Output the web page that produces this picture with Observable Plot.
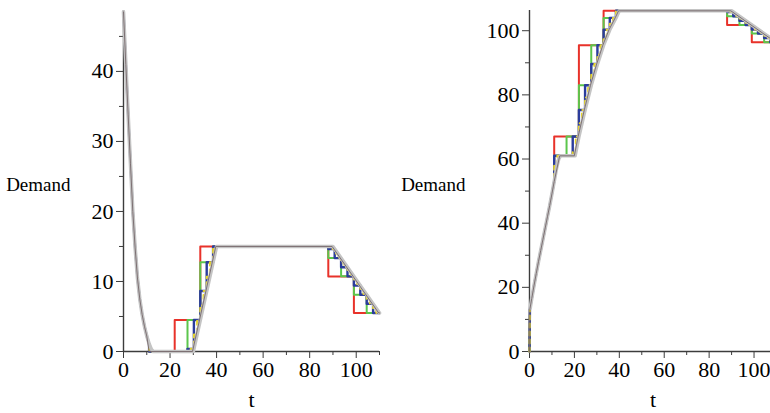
<!DOCTYPE html>
<html><head><meta charset="utf-8">
<script src="https://cdn.jsdelivr.net/npm/d3@7"></script>
<script src="https://cdn.jsdelivr.net/npm/@observablehq/plot@0.6"></script>
<style>
html,body{margin:0;padding:0;background:#fff;overflow:hidden;width:770px;height:413px;}
#wrap{position:relative;width:770px;height:413px;overflow:hidden;}
#left{position:absolute;left:0;top:0;width:390px;}
#right{position:absolute;left:390px;top:0;width:386px;}
svg{max-width:none !important;}
svg text, svg g{font-family:'Liberation Serif','Times New Roman',serif !important;}
g[aria-label$="tick label"], g[aria-label$="tick label"] text{font-size:22px !important;font-family:'Liberation Serif',serif !important;font-variant:normal !important;}
</style></head><body><div id="wrap"><div id="left"></div><div id="right"></div></div>
<script>
// ---------- Left panel ----------
const leftCurveT = [0,1,2,3,4,5,6,7,8,9,10,11,12,12.8,30,40,90,110];
const leftCurveD = [48.5,41.0,33.8,26.8,20.0,14.8,10.5,7.5,5.3,3.6,2.2,1.1,0.3,0,0,15,15,5.5];
const leftLeadT = [0,1,2,3,4,5,6,7,8,9,10,11];
const leftLeadD = [48.5,41.0,33.8,26.8,20.0,14.8,10.5,7.5,5.3,3.6,2.2,1.1];
const leftRedStart = [11,22,33,88,99];
const leftRedVal = [0,4.5,15,10.7,5.5];
const leftGreenStart = [11,27.5,33,38.5,88,93.5,99,104.5];
const leftGreenVal = [0,4.5,12.75,15,13.34,10.73,8.11,5.5];
const leftBlueStart = [11,27.5,30.25,33,35.75,38.5,88,90.75,93.5,96.25,99,101.75,104.5,107.25];
const leftBlueVal = [0,0.375,4.5,8.63,12.75,15,14.64,13.34,12.03,10.73,9.42,8.11,6.81,5.5];
const leftYellowStart = [11,28.875,30.25,31.625,33,34.375,35.75,37.125,38.5,39.875,89.375,90.75,92.125,93.5,94.875,96.25,97.625,99,100.375,101.75,103.125,104.5,105.875,107.25,108.625];
const leftYellowVal = [0,0.375,2.44,4.5,6.56,8.63,10.69,12.75,14.81,15,14.64,13.99,13.34,12.68,12.03,11.38,10.73,10.07,9.42,8.77,8.11,7.46,6.81,6.15,5.5];
const leftFineT = [0,1,2,3,4,5,6,7,8,9,10,11,29.65,39.65,89.65,109.65,110];
const leftFineD = [48.5,41.0,33.8,26.8,20.0,14.8,10.5,7.5,5.3,3.6,2.2,0,0,15,15,5.5,5.5];

// ---------- Right panel ----------
const rightCurveT = [0.3,1,2,3,4,5,6,7,8,9,10,11,12,13,13.8,20.3,22,24.75,27.5,30.25,33,35.75,38.5,40,90,110];
const rightCurveD = [13.5,16.5,20.5,24.3,28,31.5,35,38.5,42,45.5,49.2,53,57,60,61,61,67,75.3,83,89.6,95.5,100.3,104,106.2,106.2,96.4];
const rightLeadT = [0,0.2,1,2,3,4,5,6,7,8,9,10,11];
const rightLeadD = [0,13.3,16.5,20.5,24.3,28,31.5,35,38.5,42,45.5,49.2,53];
const rightRedStart = [11,22,33,88,99];
const rightRedVal = [67,95.5,106.2,101.8,96.4];
const rightGreenStart = [11,16.5,22,27.5,33,38.5,88,93.5,99,104.5];
const rightGreenVal = [61,67,83,95.5,104,106.2,104.5,101.8,99.1,96.4];
const rightBlueStart = [11,19.25,22,24.75,27.5,30.25,33,35.75,38.5,88,90.75,93.5,96.25,99,101.75,104.5,107.25];
const rightBlueVal = [61,67,75.3,83,89.6,95.5,100.3,104,106.2,105.8,104.5,103.1,101.8,100.4,99.1,97.7,96.4];
const rightYellowStart = [11,12.375,19.25,20.625,22,23.375,24.75,26.125,27.5,28.875,30.25,31.625,33,34.375,35.75,37.125,38.5,39.875,89.375,90.75,92.125,93.5,94.875,96.25,97.625,99,100.375,101.75,103.125,104.5,105.875,107.25,108.625];
const rightYellowVal = [58.1,61,62.1,67,71.15,75.3,79.15,83,86.3,89.6,92.55,95.5,97.9,100.3,102.15,104,106.0,106.2,105.8,105.2,104.5,103.8,103.1,102.5,101.8,101.1,100.4,99.8,99.1,98.4,97.7,97.1,96.4];
const rightFineT = [0,0.2,1,2,3,4,5,6,7,8,9,10,11,13.45,19.95,21.65,24.4,27.15,29.9,32.65,35.4,38.15,39.65,89.65,109.65,110];
const rightFineD = [0,13.3,16.5,20.5,24.3,28,31.5,35,38.5,42,45.5,49.2,53,61,61,67,75.3,83,89.6,95.5,100.3,104,106.2,106.2,96.4,96.4];

// ---------- tick labels ----------
const xTicks = [0,20,40,60,80,100];
const xMinor = [10,30,50,70,90,110];
const leftYTicks = [0,10,20,30,40];
const leftYMinor = [5,15,25,35,45];
const rightYTicks = [0,20,40,60,80,100];
const rightYMinor = [10,30,50,70,90];

const colors = {red:"#e8322a", green:"#5cc64c", blue:"#2b3c9c", yellow:"#e6d42c", gray:"#c4c4c4", fine:"#75676a", axis:"#3c3c3c"};
const serif = "'Liberation Serif', 'Times New Roman', serif";

function pts(T, V) { return T.map((t, i) => ({t, v: V[i]})); }
function steps(leadT, leadD, starts, vals, end) {
  const out = pts(leadT, leadD);
  starts.forEach((s, i) => {
    const e = i + 1 < starts.length ? starts[i + 1] : end;
    out.push({t: s, v: vals[i]}, {t: e, v: vals[i]});
  });
  return out;
}

function panel(cfg) {
  const red = steps(cfg.leadT, cfg.leadD, cfg.redS, cfg.redV, 110);
  const green = steps(cfg.leadT, cfg.leadD, cfg.greenS, cfg.greenV, 110);
  const blue = steps(cfg.leadT, cfg.leadD, cfg.blueS, cfg.blueV, 110);
  const yellow = steps(cfg.leadT, cfg.leadD, cfg.yellowS, cfg.yellowV, 110);
  const fine = pts(cfg.fineT, cfg.fineD);
  const curve = pts(cfg.curveT, cfg.curveD);
  return Plot.plot({
    width: cfg.width, height: 413,
    marginLeft: cfg.marginLeft, marginRight: cfg.marginRight, marginTop: 10, marginBottom: 62,
    x: {domain: [0, 110]},
    y: {domain: [0, cfg.ymax]},
    style: {fontFamily: serif, fontSize: "22px", color: "#000", background: "transparent", overflow: "visible", maxWidth: "none"},
    marks: [
      Plot.ruleY([0], {stroke: colors.axis, strokeWidth: 1.4}),
      Plot.ruleX([0], {stroke: colors.axis, strokeWidth: 1.4}),
      Plot.axisX({ticks: xTicks, tickSize: 7, tickPadding: 3, label: null, stroke: colors.axis, fill: "#000", fontSize: 22, fontFamily: serif}),
      Plot.axisX({ticks: xMinor, tickSize: 4, text: null, label: null, stroke: colors.axis}),
      Plot.axisY({ticks: cfg.yTicks, tickSize: 7, tickPadding: 3, label: null, stroke: colors.axis, fill: "#000", fontSize: 22, fontFamily: serif}),
      Plot.axisY({ticks: cfg.yMinor, tickSize: 4, text: null, label: null, stroke: colors.axis}),
      Plot.line(red, {x: "t", y: "v", stroke: colors.red, strokeWidth: 2}),
      Plot.line(green, {x: "t", y: "v", stroke: colors.green, strokeWidth: 2}),
      Plot.line(blue, {x: "t", y: "v", stroke: colors.blue, strokeWidth: 2.4}),
      Plot.line(yellow, {x: "t", y: "v", stroke: colors.yellow, strokeWidth: 2, strokeDasharray: "4,4"}),
      Plot.line(curve, {x: "t", y: "v", stroke: colors.gray, strokeWidth: 3.6}),
      Plot.line(fine, {x: "t", y: "v", stroke: colors.fine, strokeWidth: 0.9}),
      Plot.text(["Demand"], {text: d => d, frameAnchor: "left", textAnchor: "end", dx: cfg.demandDx, dy: 4, fill: "#000", fontSize: 19, fontFamily: serif}),
      Plot.text(["t"], {text: d => d, frameAnchor: "bottom", dy: 48, lineAnchor: "middle", fill: "#000", fontSize: 22, fontFamily: serif})
    ]
  });
}

document.getElementById("left").append(panel({
  width: 390, marginLeft: 123, marginRight: 11, ymax: 48.7,
  yTicks: leftYTicks, yMinor: leftYMinor, demandDx: -53,
  leadT: leftLeadT, leadD: leftLeadD,
  redS: leftRedStart, redV: leftRedVal, greenS: leftGreenStart, greenV: leftGreenVal,
  blueS: leftBlueStart, blueV: leftBlueVal, yellowS: leftYellowStart, yellowV: leftYellowVal,
  fineT: leftFineT, fineD: leftFineD, curveT: leftCurveT, curveD: leftCurveD
}));
document.getElementById("right").append(panel({
  width: 386, marginLeft: 139, marginRight: 0, ymax: 106.3,
  yTicks: rightYTicks, yMinor: rightYMinor, demandDx: -64,
  leadT: rightLeadT, leadD: rightLeadD,
  redS: rightRedStart, redV: rightRedVal, greenS: rightGreenStart, greenV: rightGreenVal,
  blueS: rightBlueStart, blueV: rightBlueVal, yellowS: rightYellowStart, yellowV: rightYellowVal,
  fineT: rightFineT, fineD: rightFineD, curveT: rightCurveT, curveD: rightCurveD
}));
</script></body></html>
